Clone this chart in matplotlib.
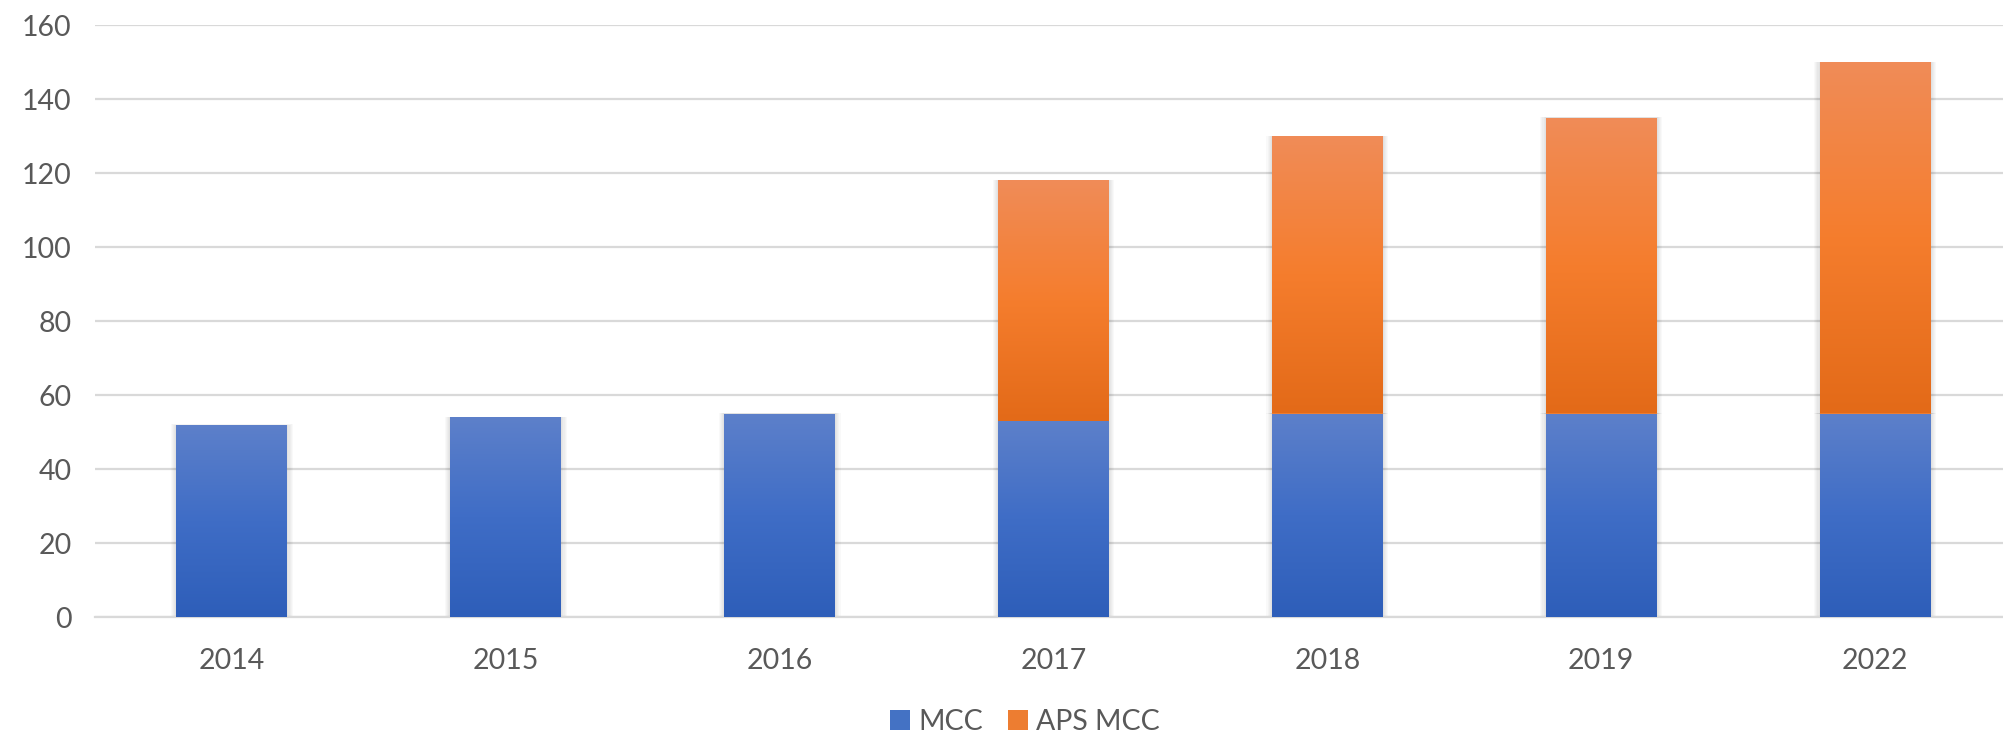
import numpy as np
import matplotlib
matplotlib.use('Agg')
import matplotlib.pyplot as plt
from matplotlib.colors import LinearSegmentedColormap
from matplotlib.patches import Rectangle, Patch

# === DATA ===
years = ['2014', '2015', '2016', '2017', '2018', '2019', '2022']
mcc = [52, 54, 55, 53, 55, 55, 55]
aps_mcc = [0, 0, 0, 65, 75, 80, 95]
series_names = ['MCC', 'APS MCC']

# === STYLE ===
plt.rcParams['font.family'] = ['Lato', 'DejaVu Sans']
text_color = '#595959'
grid_color = '#D9D9D9'
blue_cmap = LinearSegmentedColormap.from_list('blue', ['#2E5EB9', '#3F6DC6', '#5D80CA'])
orange_cmap = LinearSegmentedColormap.from_list('orange', ['#E36A18', '#F57D2D', '#F08C58'])

fig = plt.figure(figsize=(20.03, 7.35), dpi=100)
ax = fig.add_axes([95 / 2003, 118 / 735, (2012 - 95) / 2003, 592 / 735])

x = np.arange(len(years))
width = 0.405
grad = np.linspace(0, 1, 256).reshape(-1, 1)


def gradient_bars(bars, cmap):
    for p in bars:
        h = p.get_height()
        if h <= 0:
            continue
        x0, y0 = p.get_x(), p.get_y()
        w = p.get_width()
        # soft shadow around the bar
        for k in range(1, 6):
            pad = 0.004 * k
            ax.add_patch(Rectangle((x0 - pad, y0 - pad * 8), w + 2 * pad, h + pad * 10,
                                   facecolor='black', alpha=0.025, linewidth=0, zorder=2))
        im = ax.imshow(grad, extent=(x0, x0 + w, y0, y0 + h), origin='lower',
                       cmap=cmap, aspect='auto', zorder=3)
        im.set_clip_path(p)


b1 = ax.bar(x, mcc, width, color='#4472C4', linewidth=0, zorder=3)
b2 = ax.bar(x, aps_mcc, width, bottom=mcc, color='#ED7D31', linewidth=0, zorder=3)
gradient_bars(b1, blue_cmap)
gradient_bars(b2, orange_cmap)

ax.set_xlim(-0.5, len(years) - 0.5)
ax.set_ylim(0, 160)
ax.set_yticks(np.arange(0, 161, 20))
ax.set_xticks(x)
ax.set_xticklabels(years)

ax.yaxis.grid(True, color=grid_color, linewidth=1.6, zorder=0)
ax.set_axisbelow(True)
for s in ['top', 'right', 'left']:
    ax.spines[s].set_visible(False)
ax.spines['bottom'].set_color(grid_color)
ax.spines['bottom'].set_linewidth(1.6)
ax.tick_params(axis='both', length=0, labelsize=20.5, colors=text_color)
ax.tick_params(axis='y', pad=17)
ax.tick_params(axis='x', pad=22)

handles = [Patch(facecolor='#4472C4'), Patch(facecolor='#ED7D31')]
fig.legend(handles, series_names, loc='center', bbox_to_anchor=(1025 / 2003, 1 - 722 / 735),
           ncol=2, frameon=False, fontsize=20.5, labelcolor=text_color,
           handlelength=0.7, handleheight=0.7, handletextpad=0.3, columnspacing=0.85)

fig.savefig('out.png', dpi=100)
